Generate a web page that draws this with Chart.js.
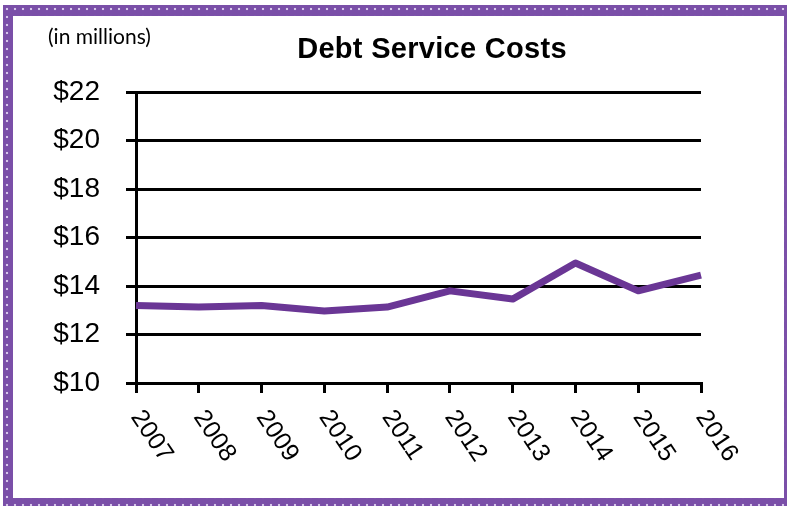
<!DOCTYPE html>
<html>
<head>
<meta charset="utf-8">
<script src="https://cdn.jsdelivr.net/npm/chart.js@4.4.0/dist/chart.umd.min.js"></script>
<style>
  body { margin: 0; background: #fff; }
  #frame {
    position: absolute; left: 3px; top: 5px; width: 784px; height: 501px;
    background-color: #7a4fa8;
    background-image: radial-gradient(circle, #d6c6ea 1px, rgba(0,0,0,0) 1.6px);
    background-size: 8px 8px;
  }
  #inner {
    position: absolute; left: 10px; top: 11px; width: 771px; height: 482px;
    background: #fff;
  }
  #wrap { position: absolute; left: 0; top: 0; width: 787px; height: 506px; }
</style>
</head>
<body>
<div id="frame"><div id="inner"></div></div>
<div id="wrap"><canvas id="myChart" width="787" height="506"></canvas></div>
<script>
// data
var years = ['2007', '2008', '2009', '2010', '2011', '2012', '2013', '2014', '2015', '2016'];
var costs = [13.2, 13.13, 13.2, 12.97, 13.13, 13.8, 13.46, 14.95, 13.8, 14.45];
var yMin = 10, yMax = 22, yStep = 2;

const FONT = 'Arial, "Liberation Sans", sans-serif';

// rotated year labels + title text
const extraText = {
    id: 'extraText',
    afterDraw(chart) {
        const ctx = chart.ctx;
        const xs = chart.scales.x;
        const area = chart.chartArea;
        ctx.save();
        ctx.fillStyle = '#000';
        ctx.font = '25px ' + FONT;
        ctx.textAlign = 'left';
        ctx.textBaseline = 'middle';
        years.forEach((y, i) => {
            const px = xs.getPixelForTick(i);
            ctx.save();
            ctx.translate(px, area.bottom + 30);
            ctx.rotate(56 * Math.PI / 180);
            ctx.fillText(y, 0, 0);
            ctx.restore();
        });
        ctx.textAlign = 'center';
        ctx.font = 'bold 29px ' + FONT;
        ctx.letterSpacing = '0.3px';
        ctx.fillText('Debt Service Costs', 432, 50);
        ctx.letterSpacing = '0px';
        ctx.textAlign = 'left';
        ctx.font = '21px Lato, "Open Sans", sans-serif';
        ctx.fillText('(in millions)', 48, 37);
        ctx.restore();
    }
};

Chart.defaults.font.family = FONT;
Chart.defaults.color = '#000000';

const ctxs = document.getElementById('myChart').getContext('2d');
const myChart = new Chart(ctxs, {
    type: 'line',
    data: {
        labels: years,
        datasets: [{
            label: 'Debt Service Costs',
            data: costs,
            borderColor: '#6a3695',
            borderWidth: 7,
            pointRadius: 0,
            tension: 0,
            borderJoinStyle: 'round',
            borderCapStyle: 'butt',
        }],
    },
    options: {
        responsive: false,
        animation: false,
        layout: { padding: { top: 92, right: 86, left: 0, bottom: 0 } },
        plugins: {
            legend: { display: false },
            tooltip: { enabled: false },
        },
        scales: {
            x: {
                type: 'category',
                offset: false,
                grid: { drawOnChartArea: false, drawTicks: true, tickLength: 10, color: '#000', lineWidth: 3 },
                border: { display: true, color: '#000', width: 3 },
                ticks: { display: false },
                afterFit: (s) => { s.height = 123; },
            },
            y: {
                min: yMin,
                max: yMax,
                grid: { color: '#000', lineWidth: 3, tickLength: 10 },
                border: { display: true, color: '#000', width: 3 },
                ticks: {
                    stepSize: yStep,
                    padding: 26,
                    font: { size: 28 },
                    callback: function (value) { return '$' + value; },
                },
                afterFit: (s) => { s.width = 136; },
            },
        },
    },
    plugins: [extraText],
});
</script>
</body>
</html>
